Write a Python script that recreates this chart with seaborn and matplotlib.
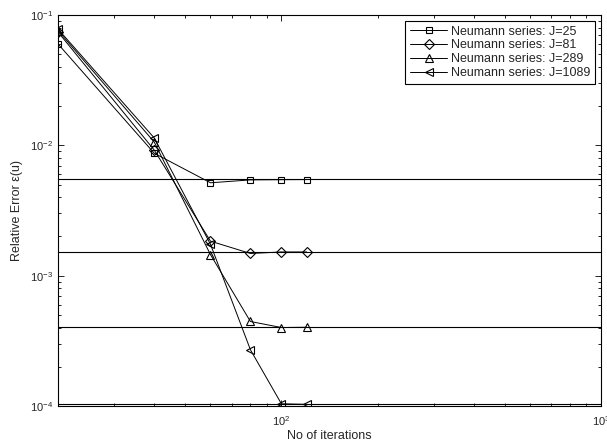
import matplotlib
matplotlib.use("Agg")
import matplotlib.pyplot as plt
import seaborn as sns
import numpy as np
import pandas as pd
from matplotlib.ticker import LogLocator, NullFormatter

iterations = [20, 40, 60, 80, 100, 120]
err_j25 = [0.060, 0.0087, 0.00516, 0.00543, 0.00545, 0.00546]
err_j81 = [0.074, 0.0092, 0.00184, 0.00148, 0.00152, 0.00152]
err_j289 = [0.076, 0.0106, 0.00145, 0.000445, 0.000400, 0.000402]
err_j1089 = [0.078, 0.0114, 0.00174, 0.000270, 0.000104, 0.000103]
asymptotes = [0.00548, 0.00152, 0.000402, 0.000103]
labels = ["Neumann series: J=25", "Neumann series: J=81",
          "Neumann series: J=289", "Neumann series: J=1089"]
markers = ["s", "D", "^", "<"]
msizes = [4.3, 4.8, 5.5, 5.5]

sns.set_style("ticks")
plt.rcParams['font.family'] = ['Liberation Sans', 'DejaVu Sans']
plt.rcParams['mathtext.fontset'] = 'custom'
plt.rcParams['mathtext.rm'] = 'Liberation Sans'
plt.rcParams['mathtext.it'] = 'Liberation Sans'

fig = plt.figure(figsize=(6.07, 4.47), dpi=100)
ax = fig.add_axes([58/607, 41/447, 543/607, 391/447])

series = [err_j25, err_j81, err_j289, err_j1089]
for vals, lab, mk, ms in zip(series, labels, markers, msizes):
    df = pd.DataFrame({"x": iterations, "y": vals})
    sns.lineplot(data=df, x="x", y="y", ax=ax, color="black", linewidth=0.7,
                 marker=mk, markersize=ms, markerfacecolor="none",
                 markeredgecolor="black", markeredgewidth=0.8, label=lab)

for a in asymptotes:
    ax.axhline(a, color="black", linewidth=0.8, zorder=1)

ax.set_xscale("log")
ax.set_yscale("log")
ax.set_xlim(20, 1000)
ax.set_ylim(1e-4, 1e-1)
ax.xaxis.set_major_locator(LogLocator(base=10, numticks=10))
ax.xaxis.set_minor_locator(LogLocator(base=10, subs=np.arange(2, 10), numticks=20))
ax.xaxis.set_minor_formatter(NullFormatter())
ax.yaxis.set_minor_formatter(NullFormatter())
ax.tick_params(which="both", direction="in", top=True, right=True, labelsize=8, color="black")
ax.tick_params(which="major", length=4, width=0.6)
ax.tick_params(which="minor", length=2, width=0.6)
ax.tick_params(axis="x", which="major", pad=6)
for s in ax.spines.values():
    s.set_visible(True)
    s.set_linewidth(0.8)
    s.set_color("black")

ax.set_xlabel("No of iterations", fontsize=9, labelpad=1)
ax.set_ylabel("Relative Error ε(u)", fontsize=9, labelpad=5)

leg = ax.legend(loc="upper right", fontsize=9, frameon=True, fancybox=False,
                edgecolor="black", framealpha=1, handlelength=3.0,
                borderaxespad=0.5, labelspacing=0.15, borderpad=0.35,
                handletextpad=0.3)
leg.get_frame().set_linewidth(0.8)

fig.savefig("out.png", dpi=100)
